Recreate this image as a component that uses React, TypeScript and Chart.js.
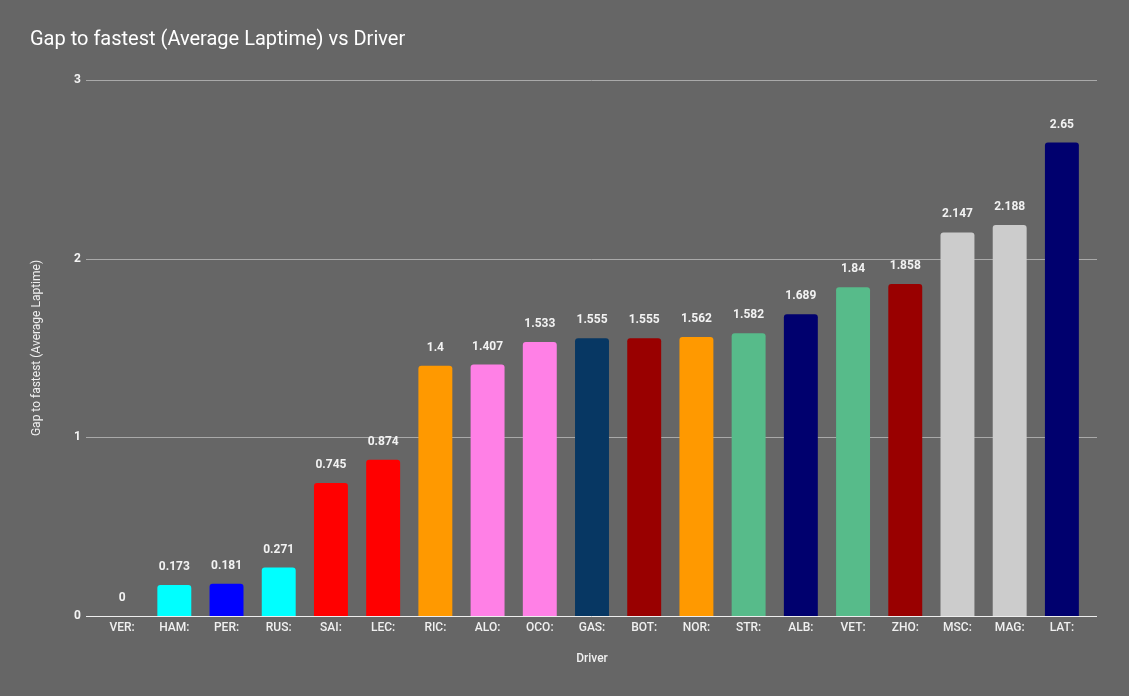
import React, { useEffect, useRef } from "react";
import { Chart, registerables } from "chart.js";

Chart.register(...registerables);

const drivers = ["VER:", "HAM:", "PER:", "RUS:", "SAI:", "LEC:", "RIC:", "ALO:", "OCO:", "GAS:", "BOT:", "NOR:", "STR:", "ALB:", "VET:", "ZHO:", "MSC:", "MAG:", "LAT:"];
const gaps = [0, 0.173, 0.181, 0.271, 0.745, 0.874, 1.4, 1.407, 1.533, 1.555, 1.555, 1.562, 1.582, 1.689, 1.84, 1.858, 2.147, 2.188, 2.65];
const barColors = ["#0000ff", "#00ffff", "#0000ff", "#00ffff", "#ff0000", "#ff0000", "#ff9900", "#ff80e6", "#ff80e6", "#073763", "#990000", "#ff9900", "#57bb8a", "#00006e", "#57bb8a", "#990000", "#cccccc", "#cccccc", "#00006e"];
const yMin = 0;
const yMax = 3;
const yStep = 1;

const titleText = "Gap to fastest (Average Laptime) vs Driver";
const xTitle = "Driver";
const yTitle = "Gap to fastest (Average Laptime)";

const FONT = "Roboto, 'Noto Sans', Arial, sans-serif";

const gridPlugin = {
  id: "extGrid",
  beforeDatasetsDraw(chart: any) {
    const { ctx, chartArea, scales } = chart;
    const y = scales.y;
    ctx.save();
    ctx.lineWidth = 1;
    y.ticks.forEach((t: any) => {
      if (t.value === 0) return;
      const py = Math.round(y.getPixelForValue(t.value)) + 0.5;
      ctx.strokeStyle = "#a9a9a9";
      ctx.beginPath();
      ctx.moveTo(chartArea.left - 10, py);
      ctx.lineTo(chartArea.right + 9, py);
      ctx.stroke();
    });
    ctx.restore();
  },
  afterDatasetsDraw(chart: any) {
    const { ctx, chartArea, scales } = chart;
    const y = scales.y;
    ctx.save();
    const py = Math.round(y.getPixelForValue(0)) + 0.5;
    ctx.strokeStyle = "#eeeeee";
    ctx.lineWidth = 1;
    ctx.beginPath();
    ctx.moveTo(chartArea.left - 10, py);
    ctx.lineTo(chartArea.right + 9, py);
    ctx.stroke();

    ctx.fillStyle = "#f2f2f2";
    ctx.font = `bold 12px ${FONT}`;
    ctx.textAlign = "center";
    ctx.textBaseline = "middle";
    const meta = chart.getDatasetMeta(0);
    meta.data.forEach((bar: any, i: number) => {
      ctx.fillText(String(gaps[i]), bar.x, bar.y - 18);
    });
    ctx.restore();
  },
};

export default function App() {
  const canvasRef = useRef<HTMLCanvasElement | null>(null);

  useEffect(() => {
    if (!canvasRef.current) return;
    const chart = new Chart(canvasRef.current, {
      type: "bar",
      data: {
        labels: drivers,
        datasets: [
          {
            data: gaps,
            backgroundColor: barColors,
            borderRadius: { topLeft: 3, topRight: 3, bottomLeft: 0, bottomRight: 0 },
            borderSkipped: false,
            barPercentage: 1,
            categoryPercentage: 0.65,
          },
        ],
      },
      options: {
        animation: false,
        responsive: true,
        maintainAspectRatio: false,
        layout: { padding: { left: 30, right: 41, top: 0, bottom: 0 } },
        plugins: {
          legend: { display: false },
          tooltip: { enabled: false },
          title: {
            display: true,
            text: titleText,
            align: "start",
            color: "#ffffff",
            font: { family: FONT, size: 20, weight: "normal", lineHeight: 1.2 },
            padding: { top: 28, bottom: 28 },
          },
        },
        scales: {
          x: {
            grid: { display: false, drawTicks: false },
            border: { display: false },
            ticks: {
              color: "#f0f0f0",
              font: { family: FONT, size: 12, weight: "500" },
              padding: 5,
              maxRotation: 0,
              autoSkip: false,
            },
            title: {
              display: true,
              text: xTitle,
              color: "#f0f0f0",
              font: { family: FONT, size: 12, weight: "500", lineHeight: 1.2 },
              padding: { top: 0, bottom: 30 },
            },
            afterFit(scale: any) {
              scale.height = 80;
            },
          },
          y: {
            min: yMin,
            max: yMax,
            grid: { display: false, drawTicks: false },
            border: { display: false },
            ticks: {
              stepSize: yStep,
              color: "#f4f4f4",
              font: { family: FONT, size: 12, weight: "bold" },
              padding: 15,
            },
            title: {
              display: true,
              text: yTitle,
              color: "#f0f0f0",
              font: { family: FONT, size: 12, weight: "normal", lineHeight: 1.2 },
              padding: { top: 0, bottom: 0 },
            },
            afterFit(scale: any) {
              scale.width = 66;
            },
          },
        },
      },
      plugins: [gridPlugin],
    } as any);
    return () => chart.destroy();
  }, []);

  return (
    <div
      style={{
        position: "absolute",
        left: 0,
        top: 0,
        width: 1129,
        height: 696,
        background: "#666666",
      }}
    >
      <canvas ref={canvasRef} />
    </div>
  );
}
